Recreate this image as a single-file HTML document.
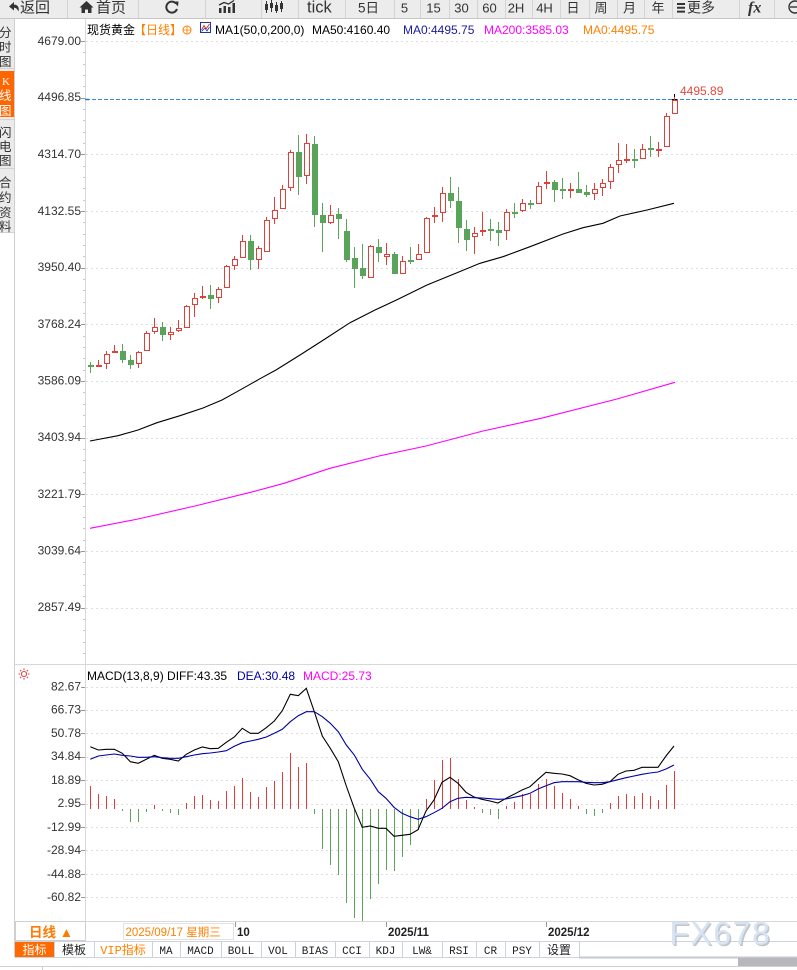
<!DOCTYPE html>
<html><head><meta charset="utf-8"><style>
html,body{margin:0;padding:0;background:#fff;}
svg{display:block;}
</style></head><body>
<svg width="797" height="970" viewBox="0 0 797 970" xmlns="http://www.w3.org/2000/svg" font-family="'Liberation Sans','Noto Sans CJK SC',sans-serif">
<rect x="0" y="0" width="797" height="970" fill="#fff"/>
<!-- toolbar -->
<rect x="0" y="0" width="797" height="19" fill="#ececec"/>
<line x1="0" y1="18.5" x2="797" y2="18.5" stroke="#c6c6c6"/>
<path d="M67.5 0V18M138.5 0V18M205.5 0V18M261.5 0V18M298.5 0V18M345.5 0V18M394.5 0V18M420.5 0V18M449.5 0V18M477.5 0V18M505.5 0V18M532.5 0V18M560.5 0V18M589.5 0V18M617.5 0V18M644.5 0V18M672.5 0V18M739.5 0V18M774.5 0V18" stroke="#d4d4d4"/>
<path d="M9 6.5L14 2V4.6C18.5 4.6 19.5 8.5 18.3 11.5C17.3 8.8 16 7.8 14 7.8V10.5Z" fill="#333"/>
<text x="20" y="12.5" font-size="15" fill="#333">返回</text>
<path d="M79.5 7.5L86.5 1L93.5 7.5H91.5V13H88V9.5H85V13H81.5V7.5Z" fill="#333"/>
<text x="96" y="12.5" font-size="15" fill="#333">首页</text>
<path d="M176 3.5A5.5 5.5 0 1 0 177 9" fill="none" stroke="#333" stroke-width="2"/>
<path d="M173.5 1.5L178.5 1.5L178 6.5Z" fill="#333"/>
<path d="M219 8h2.5v5H219zM223.5 6h2.5v7h-2.5zM228 7h2.5v6H228zM232.5 3h2.5v10h-2.5z" fill="#333"/>
<polyline points="219,5 224,2.5 228.5,4 234,0.5" fill="none" stroke="#333" stroke-width="1.3"/>
<path d="M266.5 1V13M271.5 0V12M276.5 2V13M281.5 1V12" stroke="#333"/>
<path d="M265 4h3v6h-3zM270 3h3v5h-3zM275 5h3v6h-3zM280 3h3v6h-3z" fill="#333"/>
<text x="307" y="12.5" font-size="16.5" fill="#333">tick</text>
<text x="358" y="12.5" font-size="13.5" fill="#333">5日</text>
<g font-size="13" fill="#333" text-anchor="middle">
<text x="404.5" y="12.5">5</text>
<text x="433.5" y="12.5">15</text>
<text x="461.5" y="12.5">30</text>
<text x="489.5" y="12.5">60</text>
<text x="516" y="12.5">2H</text>
<text x="544.5" y="12.5">4H</text>
<text x="573" y="12.5">日</text>
<text x="601" y="12.5">周</text>
<text x="629.5" y="12.5">月</text>
<text x="658" y="12.5">年</text>
</g>
<path d="M677 3h8v2h-8zM677 6.8h8v2h-8zM677 10.6h8v2h-8z" fill="#333"/>
<text x="687" y="12.5" font-size="14" fill="#333">更多</text>
<text x="748" y="12.5" font-size="16" font-weight="bold" font-style="italic" font-family="'Liberation Serif',serif" fill="#333">fx</text>
<circle cx="795" cy="7" r="6" fill="none" stroke="#333" stroke-width="1.4"/>
<line x1="790" y1="7" x2="797" y2="7" stroke="#333" stroke-width="1.4"/>

<!-- sidebar -->
<rect x="0" y="19" width="14" height="213" fill="#ebebeb"/>
<rect x="0" y="71" width="14" height="46" fill="#ff6600"/>
<path d="M0 68.5H14M0 119.5H14M0 168.5H14M0 232.5H14" stroke="#d2d2d2"/>
<g font-size="12.5" fill="#333">
<text x="-1" y="37">分</text><text x="-1" y="51.5">时</text><text x="-1" y="66">图</text>
<text x="-1" y="137">闪</text><text x="-1" y="151">电</text><text x="-1" y="165">图</text>
<text x="-1" y="187">合</text><text x="-1" y="202">约</text><text x="-1" y="217">资</text><text x="-1" y="231">料</text>
</g>
<g font-size="12.5" fill="#fff">
<text x="2" y="85" font-family="'Liberation Serif',serif" font-size="11">K</text><text x="-1" y="100">线</text><text x="-1" y="115">图</text>
</g>
<line x1="14.5" y1="19" x2="14.5" y2="957" stroke="#cfcfcf"/>
<line x1="85.5" y1="19" x2="85.5" y2="921" stroke="#d8d8d8"/>
<line x1="15" y1="664.5" x2="797" y2="664.5" stroke="#d8d8d8"/>

<!-- price gridlines -->
<path d="M86 41.5H797M86 154.5H797M86 211.5H797M86 268.5H797M86 324.5H797M86 381.5H797M86 438.5H797M86 494.5H797M86 551.5H797M86 608.5H797" stroke="#dedede" stroke-dasharray="2,3"/>
<path d="M81 41.5H85M81 98.5H85M81 154.5H85M81 211.5H85M81 268.5H85M81 324.5H85M81 381.5H85M81 438.5H85M81 494.5H85M81 551.5H85M81 608.5H85" stroke="#999"/>
<path d="M83 52.5H85M83 64.5H85M83 75.5H85M83 86.5H85M83 109.5H85M83 120.5H85M83 132.5H85M83 143.5H85M83 166.5H85M83 177.5H85M83 188.5H85M83 200.5H85M83 222.5H85M83 234.5H85M83 245.5H85M83 256.5H85M83 279.5H85M83 290.5H85M83 302.5H85M83 313.5H85M83 336.5H85M83 347.5H85M83 358.5H85M83 370.5H85M83 392.5H85M83 404.5H85M83 415.5H85M83 426.5H85M83 449.5H85M83 460.5H85M83 472.5H85M83 483.5H85M83 506.5H85M83 517.5H85M83 528.5H85M83 540.5H85M83 562.5H85M83 574.5H85M83 585.5H85M83 596.5H85M83 619.5H85M83 630.5H85M83 642.5H85M83 653.5H85" stroke="#c8c8c8"/>
<g font-size="12" fill="#333" text-anchor="end">
<text x="81" y="45">4679.00</text>
<text x="81" y="101">4496.85</text>
<text x="81" y="158">4314.70</text>
<text x="81" y="215">4132.55</text>
<text x="81" y="271">3950.40</text>
<text x="81" y="328">3768.24</text>
<text x="81" y="384.5">3586.09</text>
<text x="81" y="441">3403.94</text>
<text x="81" y="498">3221.79</text>
<text x="81" y="554.5">3039.64</text>
<text x="81" y="611">2857.49</text>
</g>
<!-- current price line -->
<line x1="86" y1="99.5" x2="797" y2="99.5" stroke="#3a8ad8" stroke-dasharray="4,2"/>
<line x1="85" y1="99.5" x2="89" y2="99.5" stroke="#1e78e0" stroke-width="1.5"/>
<text x="680" y="95" font-size="12" fill="#e5483c">4495.89</text>
<path d="M674.5 94V99M672 99.5H677" stroke="#000"/>

<!-- legend -->
<g font-size="12">
<text x="87" y="34" fill="#000">现货黄金</text>
<text x="134" y="34" fill="#ff8000">【日线】</text>
<text x="215" y="34" fill="#000">MA1(50,0,200,0)</text>
<text x="312" y="34" fill="#000">MA50:4160.40</text>
<text x="403" y="34" fill="#1a1a9a">MA0:4495.75</text>
<text x="484" y="34" fill="#ff00ff">MA200:3585.03</text>
<text x="583" y="34" fill="#ff8000">MA0:4495.75</text>
</g>
<circle cx="187" cy="30" r="4" fill="none" stroke="#ff8000"/>
<path d="M183 30H191M187 26V34" stroke="#ff8000" stroke-width="0.8"/>
<rect x="200.5" y="22.5" width="10" height="10" fill="#fff" stroke="#1a3aaa"/>
<polyline points="201.5,30 204,25.5 206,29 209.5,24" fill="none" stroke="#e03030"/>
<polyline points="201.5,31.5 205,28 207,31 209.5,27" fill="none" stroke="#1a3aaa" stroke-width="0.8"/>

<!-- MA lines -->
<polyline fill="none" stroke="#000" stroke-width="1.1" points="90,441 118,435.7 138,430 157,422.7 180,415.7 203,408 222,400 237,391.7 253,382.7 260,378.7 276,370 300,355 325,339 350,322.7 375,310 398,299.3 427,285 457,272.7 480,263.3 503,256.7 530,246.7 563,234 583,227.7 603,223.3 620,216 647,210 674,203.3"/>
<polyline fill="none" stroke="#ff00ff" stroke-width="1.1" points="90,528.3 138,519 195,506 253,491.7 284,483.3 330,468.3 379,456 426,446 483,431 541,418.3 617,399 675,382.3"/>

<!-- candle wicks -->
<path stroke="#5aa35a" d="M90.5 362V373M122.5 344V363M130.5 355V369M162.5 322V341M210.5 285V309M250.5 235V270M298.5 135V195M314.5 136V227M322.5 203V252M338.5 208V239M346.5 219V262M354.5 247V288M362.5 244V279M378.5 239V262M394.5 252V274M410.5 247V264M450.5 177V208M458.5 187V243M466.5 220V251M490.5 219V241M498.5 222V246M514.5 203V218M530.5 200V209M554.5 180V202M562.5 178V199M578.5 172V193M586.5 185V197M634.5 149V168M650.5 136V157"/>
<path stroke="#e0403a" d="M98.5 360V367M106.5 351V369M114.5 345V353M138.5 351V368M146.5 331V351M154.5 318V334M170.5 327V340M178.5 320V332M186.5 305V328M194.5 293V317M202.5 286V299M218.5 287V303M226.5 265V288M234.5 256V270M242.5 235V258M258.5 246V269M266.5 217V252M274.5 197V224M282.5 185V209M290.5 150V191M306.5 134V184M330.5 205V224M370.5 245V278M386.5 243V265M402.5 256V274M418.5 244V260M426.5 217V253M434.5 207V223M442.5 187V222M474.5 227V254M482.5 212V236M506.5 209V240M522.5 199V212M538.5 182V204M546.5 171V189M570.5 183V198M594.5 183V200M602.5 179V196M610.5 164V189M618.5 143V173M626.5 144V163M642.5 144V159M658.5 142V157M666.5 113V147M674.5 97V114"/>
<!-- green bodies -->
<g fill="#5aa35a">
<rect x="88" y="365" width="6" height="2"/>
<rect x="120" y="351" width="6" height="9"/>
<rect x="128" y="360" width="6" height="5"/>
<rect x="160" y="327" width="6" height="8"/>
<rect x="208" y="295" width="6" height="4"/>
<rect x="248" y="241" width="6" height="19"/>
<rect x="296" y="152" width="6" height="25"/>
<rect x="312" y="144" width="6" height="71"/>
<rect x="320" y="215" width="6" height="8"/>
<rect x="336" y="214" width="6" height="5"/>
<rect x="344" y="231" width="6" height="29"/>
<rect x="352" y="258" width="6" height="11"/>
<rect x="360" y="268" width="6" height="8"/>
<rect x="376" y="247" width="6" height="6"/>
<rect x="392" y="254" width="6" height="20"/>
<rect x="408" y="260" width="6" height="2"/>
<rect x="448" y="193" width="6" height="8"/>
<rect x="456" y="201" width="6" height="27"/>
<rect x="464" y="229" width="6" height="11"/>
<rect x="488" y="229" width="6" height="2"/>
<rect x="496" y="230" width="6" height="3"/>
<rect x="512" y="212" width="6" height="2"/>
<rect x="528" y="203" width="6" height="2"/>
<rect x="552" y="182" width="6" height="8"/>
<rect x="560" y="189" width="6" height="2"/>
<rect x="576" y="189" width="6" height="4"/>
<rect x="584" y="192" width="6" height="3"/>
<rect x="632" y="159" width="6" height="2"/>
<rect x="648" y="148" width="6" height="2"/>
</g>
<!-- red hollow bodies -->
<g fill="#fff" stroke="#e0403a">
<rect x="96.5" y="365.5" width="5" height="1"/>
<rect x="104.5" y="354.5" width="5" height="9"/>
<rect x="112.5" y="351.5" width="5" height="1"/>
<rect x="136.5" y="352.5" width="5" height="11"/>
<rect x="144.5" y="333.5" width="5" height="17"/>
<rect x="152.5" y="327.5" width="5" height="4"/>
<rect x="168.5" y="332.5" width="5" height="2"/>
<rect x="176.5" y="328.5" width="5" height="2"/>
<rect x="184.5" y="306.5" width="5" height="21"/>
<rect x="192.5" y="298.5" width="5" height="6"/>
<rect x="216.5" y="289.5" width="5" height="8"/>
<rect x="224.5" y="266.5" width="5" height="21"/>
<rect x="232.5" y="259.5" width="5" height="6"/>
<rect x="240.5" y="241.5" width="5" height="16"/>
<rect x="256.5" y="248.5" width="5" height="11"/>
<rect x="264.5" y="220.5" width="5" height="31"/>
<rect x="272.5" y="210.5" width="5" height="8"/>
<rect x="280.5" y="189.5" width="5" height="19"/>
<rect x="288.5" y="152.5" width="5" height="35"/>
<rect x="304.5" y="143.5" width="5" height="32"/>
<rect x="328.5" y="215.5" width="5" height="7"/>
<rect x="368.5" y="246.5" width="5" height="31"/>
<rect x="384.5" y="254.5" width="5" height="2"/>
<rect x="400.5" y="261.5" width="5" height="12"/>
<rect x="416.5" y="254.5" width="5" height="5"/>
<rect x="424.5" y="218.5" width="5" height="34"/>
<rect x="432.5" y="215.5" width="5" height="1"/>
<rect x="440.5" y="193.5" width="5" height="19"/>
<rect x="472.5" y="233.5" width="5" height="3"/>
<rect x="480.5" y="230.5" width="5" height="1"/>
<rect x="504.5" y="212.5" width="5" height="18"/>
<rect x="520.5" y="203.5" width="5" height="7"/>
<rect x="536.5" y="186.5" width="5" height="17"/>
<rect x="544.5" y="182.5" width="5" height="1"/>
<rect x="592.5" y="189.5" width="5" height="4"/>
<rect x="600.5" y="183.5" width="5" height="4"/>
<rect x="608.5" y="167.5" width="5" height="14"/>
<rect x="616.5" y="160.5" width="5" height="4"/>
<rect x="640.5" y="149.5" width="5" height="9"/>
<rect x="664.5" y="116.5" width="5" height="30"/>
<rect x="672.5" y="100.5" width="5" height="13"/>
</g>
<g fill="#e0403a">
<rect x="200" y="296" width="6" height="2"/>
<rect x="568" y="189" width="6" height="2"/>
<rect x="624" y="159" width="6" height="2"/>
<rect x="656" y="149" width="6" height="2"/>
</g>

<!-- MACD panel -->
<g fill="none" stroke="#e03a3a" stroke-width="1.1">
<circle cx="24" cy="674" r="2.5"/>
<path d="M24 668.5V670M24 678V679.5M18.5 674H20M28 674H29.5M20.2 670.2L21.2 671.2M26.8 676.8L27.8 677.8M27.8 670.2L26.8 671.2M21.2 676.8L20.2 677.8"/>
</g>
<g font-size="12">
<text x="87" y="680" fill="#000">MACD(13,8,9) DIFF:43.35</text>
<text x="237" y="680" fill="#0000a0">DEA:30.48</text>
<text x="303" y="680" fill="#ff00ff">MACD:25.73</text>
</g>
<path d="M86 687.5H797M86 710.5H797M86 733.5H797M86 757.5H797M86 780.5H797M86 804.5H797M86 827.5H797M86 850.5H797M86 874.5H797M86 897.5H797" stroke="#dedede" stroke-dasharray="2,3"/>
<path d="M81 687.5H85M81 710.5H85M81 733.5H85M81 757.5H85M81 780.5H85M81 804.5H85M81 827.5H85M81 850.5H85M81 874.5H85M81 897.5H85" stroke="#999"/>
<g font-size="12" fill="#333" text-anchor="end">
<text x="81" y="690.5">82.67</text>
<text x="81" y="713.5">66.73</text>
<text x="81" y="737">50.78</text>
<text x="81" y="760">34.84</text>
<text x="81" y="784">18.89</text>
<text x="81" y="807">2.95</text>
<text x="81" y="831">-12.99</text>
<text x="81" y="854">-28.94</text>
<text x="81" y="878">-44.88</text>
<text x="81" y="901">-60.82</text>
</g>
<path stroke="#e03a3a" d="M90.5 809V786M98.5 809V794M106.5 809V796M114.5 809V799M154.5 809V805M186.5 809V803M194.5 809V796M202.5 809V795M210.5 809V800M218.5 809V801M226.5 809V791M234.5 809V786M242.5 809V778M250.5 809V792M258.5 809V797M266.5 809V787M274.5 809V781M282.5 809V772M290.5 809V753M298.5 809V767M306.5 809V763M426.5 809V799M434.5 809V780M442.5 809V760M450.5 809V758M458.5 809V779M466.5 809V800M474.5 809V807M506.5 809V806M514.5 809V802M522.5 809V794M530.5 809V794M538.5 809V784M546.5 809V779M554.5 809V786M562.5 809V793M570.5 809V799M578.5 809V806M610.5 809V803M618.5 809V796M626.5 809V794M634.5 809V796M642.5 809V793M650.5 809V796M658.5 809V800M666.5 809V785M674.5 809V771"/>
<path stroke="#5aa35a" d="M122.5 809V811M130.5 809V822M138.5 809V822M146.5 809V812M162.5 809V811M170.5 809V813M178.5 809V815M314.5 809V814M322.5 809V849M330.5 809V865M338.5 809V875M346.5 809V903M354.5 809V918M362.5 809V921M370.5 809V899M378.5 809V884M386.5 809V870M394.5 809V871M402.5 809V857M410.5 809V845M418.5 809V830M482.5 809V813M490.5 809V815M498.5 809V819M586.5 809V814M594.5 809V816M602.5 809V813"/>
<polyline fill="none" stroke="#000" stroke-width="1.1" points="90.3,746.7 98.3,750 106.3,749.3 114.3,749.3 122.3,753.3 130.3,761.7 138.3,763.3 146.3,759.3 154.3,755.3 162.3,758.3 170.3,759.3 178.3,761 186.3,754.3 194.3,750 202.3,747 210.3,748.7 218.3,748.3 226.3,742.3 234.3,737 242.3,728.3 250.3,733.3 258.3,733.3 266.3,727.7 274.3,721 282.3,710.7 290.3,694.3 298.3,695.7 306.3,688.3 314.3,711.7 322.3,736 330.3,748.3 338.3,761.7 346.3,786 354.3,808.3 362.3,827.3 370.3,826 378.3,828.3 386,828.3 394,836.3 402,835.3 410,834.3 418,829.7 426,811 434,800 442,782.3 450,777.3 458,783.3 466,792.3 474,797 482,799.3 490,801 498,803 506,798.3 514,794.3 522,790 530,786.7 538,779.3 546,772.3 554,773.3 562,774 570,775.7 578,779.7 586,783.3 594,785 602,784.3 610,781.7 618,774.3 626,771 634,770.3 642,767.3 650,767.3 658,767.3 666,756 674,746"/>
<polyline fill="none" stroke="#0000a8" stroke-width="1.1" points="90.3,759.3 98.3,756 106.3,755 114.3,754 122.3,755.3 130.3,756 138.3,757.3 146.3,757.3 154.3,756.7 162.3,757.7 170.3,758.3 178.3,758.3 186.3,756.7 194.3,755 202.3,753.7 210.3,753 218.3,752 226.3,750.7 234.3,746.3 242.3,742.7 250.3,741 258.3,739.3 266.3,737 274.3,733.3 282.3,729.3 290.3,721.7 298.3,715.7 306.3,711.7 314.3,711.7 322.3,716.7 330.3,723.3 338.3,731.7 346.3,745 354.3,755 362.3,769.3 370.3,779.3 378.3,791.7 386,798.3 394,807.3 402,813.3 410,816.7 418,819.3 426,816.7 434,812.7 442,808.3 450,801.7 458,798.3 466,797.3 474,797.7 482,798 490,798.7 498,799.3 506,799 514,797.3 522,795.7 530,793.3 538,789 546,785.7 554,782.7 562,781.7 570,781.7 578,781.7 586,782.3 594,782.7 602,782.7 610,781.7 618,779.7 626,777.7 634,776 642,774.3 650,773 658,772 666,769 674,765"/>

<!-- x-axis row -->
<line x1="15" y1="921.5" x2="797" y2="921.5" stroke="#d8d8d8"/>
<rect x="15.5" y="921.5" width="70" height="19" fill="#fff" stroke="#cfcfcf"/>
<text x="29" y="937" font-size="13.5" font-weight="bold" fill="#ff7a00">日线 ▲</text>
<rect x="123.5" y="923.5" width="110" height="16" fill="#fff" stroke="#e2e2e2"/>
<text x="125.5" y="936" font-size="11.5" fill="#ff8000">2025/09/17 星期三</text>
<path d="M235.5 922V927M386.5 922V927M546.5 922V927" stroke="#999"/>
<g font-size="11.5" font-weight="bold" fill="#222">
<text x="237" y="936">10</text>
<text x="388" y="936">2025/11</text>
<text x="548" y="936">2025/12</text>
</g>

<!-- tab bar -->
<line x1="15" y1="941.5" x2="797" y2="941.5" stroke="#cdd3dc"/>
<rect x="15" y="942" width="39" height="15" fill="#ff6a00"/>
<path d="M54.5 942V957M94.5 942V957M152.5 942V957M180.5 942V957M221.5 942V957M261.5 942V957M295.5 942V957M335.5 942V957M369.5 942V957M402.5 942V957M442.5 942V957M476.5 942V957M505.5 942V957M539.5 942V957M579.5 942V957" stroke="#cdd3dc"/>
<line x1="15" y1="957.5" x2="579" y2="957.5" stroke="#cdd3dc"/>
<line x1="579" y1="957.5" x2="797" y2="957.5" stroke="#c4c8d0" stroke-width="2"/>
<g font-size="12" text-anchor="middle" font-family="'Liberation Mono','Noto Sans CJK SC',monospace">
<text x="34.5" y="954" fill="#fff">指标</text>
<text x="74" y="954" fill="#222">模板</text>
<text x="123" y="954" fill="#ff8000">VIP指标</text>
<text x="166" y="954" fill="#222" font-size="11">MA</text>
<text x="200.5" y="954" fill="#222" font-size="11">MACD</text>
<text x="241" y="954" fill="#222" font-size="11">BOLL</text>
<text x="278" y="954" fill="#222" font-size="11">VOL</text>
<text x="315" y="954" fill="#222" font-size="11">BIAS</text>
<text x="352" y="954" fill="#222" font-size="11">CCI</text>
<text x="385.5" y="954" fill="#222" font-size="11">KDJ</text>
<text x="422" y="954" fill="#222" font-size="11">LW&amp;</text>
<text x="459" y="954" fill="#222" font-size="11">RSI</text>
<text x="490.5" y="954" fill="#222" font-size="11">CR</text>
<text x="522" y="954" fill="#222" font-size="11">PSY</text>
<text x="559" y="954" fill="#222">设置</text>
</g>
<!-- bottom strip -->
<rect x="738" y="958" width="59" height="8" fill="#b8b8bc"/>
<line x1="0" y1="966.5" x2="797" y2="966.5" stroke="#d0d0d0"/>
<line x1="42.5" y1="966" x2="42.5" y2="970" stroke="#d0d0d0"/>

<!-- watermark -->
<text x="671" y="946" font-size="32" letter-spacing="1.5" fill="#a9afb6" opacity="0.7">FX678</text>
<text x="669.5" y="944.5" font-size="32" letter-spacing="1.5" fill="#d6e4f3">FX678</text>
</svg>
</body></html>
